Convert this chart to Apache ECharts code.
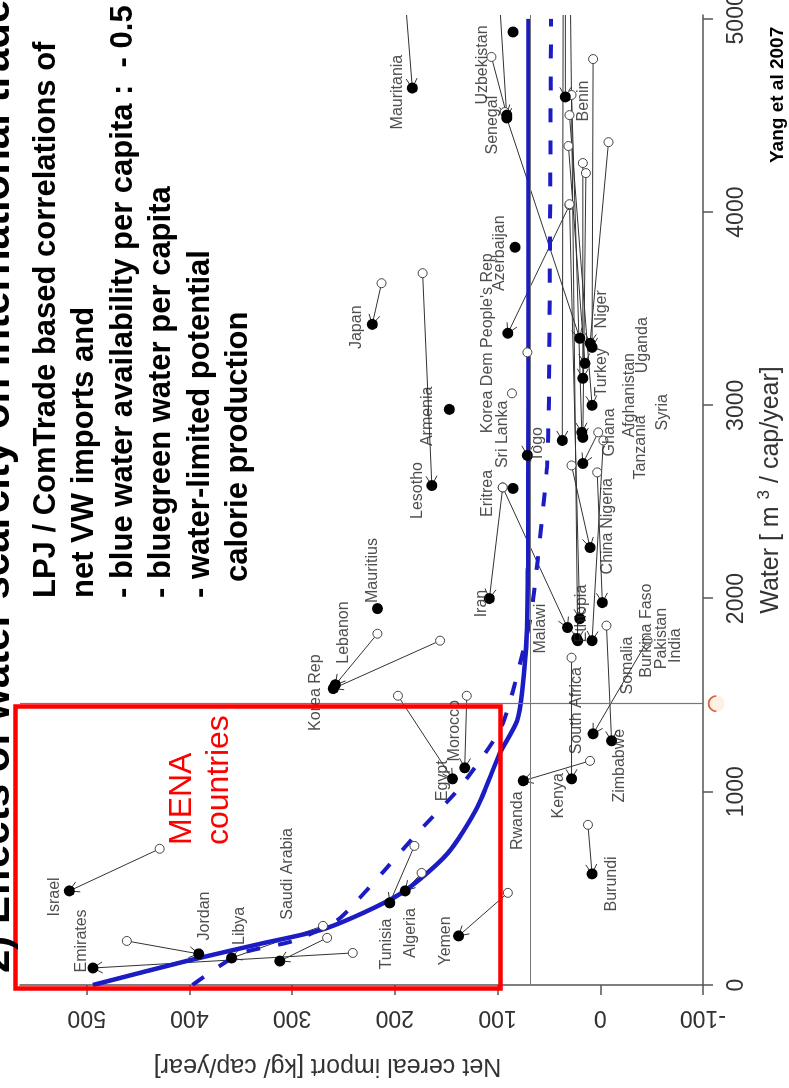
<!DOCTYPE html>
<html>
<head>
<meta charset="utf-8">
<script src="https://cdn.jsdelivr.net/npm/echarts@6/dist/echarts.min.js"></script>
<style>
  html, body { margin: 0; padding: 0; width: 789px; height: 1088px; overflow: hidden; background: #fff; }
  /* The slide is laid out landscape and turned a quarter turn counter-clockwise */
  #slide { position: absolute; left: 0; top: 0; width: 1088px; height: 789px;
           transform-origin: 0 0; transform: translate(0, 1088px) rotate(-90deg); background: #fff; }
</style>
</head>
<body>
<div id="slide"></div>
<script>
// Axis ticks
const waterTicks = [0, 1000, 2000, 3000, 4000, 5000];
const importTicks = [-100, 0, 100, 200, 300, 400, 500];

// Reference thresholds (water per capita, net cereal import)
const waterThreshold = 1456;
const importThreshold = 68.5;

// Fitted curves: [water m3/cap/yr, net cereal import kg/cap/yr]
const fitSolid = [[0,494],[124,403],[212,332],[295,266],[471,195],[679,149],[917,120],[1197,98],
  [1368,81],[1523,76],[1819,71.5],[2160,70.5],[3026,70],[5000,70]];
const fitDashed = [[0,397],[161,351],[228,299],[332,257],[435,237],[606,208],[798,176],[1021,137],
  [1316,98],[1523,85],[1886,68.5],[2197,61],[2456,56],[2679,52],[3026,50],[5000,48]];

// Country moves: [water before, import before, water after, import after]
const moves = [
  [705,429,487,517], [166,241,88,494], [244,266,124,312], [228,461,161,391], [306,270,140,359],
  [720,181,425,205], [580,174,487,190], [477,90,254,138], [1497,197,1067,144], [1497,130,1124,132],
  [1782,156,1534,260], [1818,217,1554,258], [2575,95,2000,108], [2575,95,1850,32], [3274,71,2741,71],
  [4036,30,3373,90], [3684,173,2585,164], [3632,213,3419,222], [5513,196,4642,183], [4803,106,4502,91],
  [5513,103,4487,91], [4518,93,3347,20], [5513,34,4596,34], [4792,7,3300,8], [4362,-8,3321,10],
  [4342,31,3217,15], [4254,17,3140,17], [4202,14,2834,17], [4502,30,3000,8], [4606,28,2860,18],
  [5513,36,2818,37], [2860,2,2699,17], [2653,3,1979,-2], [2689,28,2264,10], [4041,30,1896,20],
  [2818,-3,1782,8], [5513,30,1782,22], [1782,-46,1300,7], [1860,-6,1264,-11], [1694,28,1067,28],
  [1160,10,1057,75], [829,12,575,8]
];
// Countries shown without a move
const filledOnly = [[1948,217],[2570,85],[3818,83],[2979,147],[4932,85],[1793,23]];
const openOnly = [[3062,86]];

// Country names and where they sit
const countryLabels = [
  ['Israel',456,531], ['Emirates',228,505], ['Jordan',357,385], ['Libya',306,351],
  ['Saudi Arabia',575,304], ['Tunisia',212,208], ['Algeria',269,185], ['Yemen',228,151],
  ['Egypt',1057,154], ['Morocco',1316,142], ['Korea Rep',1513,277], ['Lebanon',1824,250],
  ['Mauritius',2145,222], ['Iran',1974,116], ['Eritrea',2544,110], ['Sri Lanka',2850,95],
  ['Togo',2798,61], ['Malawi',1844,58], ["Korea Dem People's Rep",3321,110], ['Azerbaijan',3787,98],
  ['Armenia',2943,168], ['Lesotho',2559,178], ['Japan',3404,237], ['Mauritania',4621,197],
  ['Senegal',4450,105], ['Uzbekistan',4761,115], ['Benin',4575,16], ['Niger',3497,-1],
  ['Uganda',3311,-41], ['Turkey',3171,-1], ['Afghanistan',3052,-29], ['Tanzania',2782,-39],
  ['Syria',2964,-61], ['Ghana',2860,-9], ['Nigeria',2492,-7], ['China',2233,-7],
  ['Ethiopia',1922,18], ['India',1756,-73], ['Pakistan',1793,-60], ['Burkina Faso',1834,-45],
  ['Somalia',1653,-27], ['Zimbabwe',1135,-19], ['South Africa',1420,23], ['Kenya',979,41],
  ['Rwanda',850,81], ['Burundi',523,-11]
];

const FONT = '"Liberation Sans", Arial, Helvetica, sans-serif';
const AXIS_GREY = '#555';
const BLUE = '#1c1cc4';

const openPoints = moves.map(m => [m[0], m[1]]).concat(openOnly);
const filledPoints = moves.map(m => [m[2], m[3]]).concat(filledOnly);

const chart = echarts.init(document.getElementById('slide'), null, { renderer: 'canvas', width: 1088, height: 789 });

function arrowItem(params, api) {
  const p1 = api.coord([api.value(0), api.value(1)]);
  const p2 = api.coord([api.value(2), api.value(3)]);
  const ang = Math.atan2(p2[1] - p1[1], p2[0] - p1[0]);
  const len = 11, spread = Math.PI / 6;
  const h1 = [p2[0] - len * Math.cos(ang - spread), p2[1] - len * Math.sin(ang - spread)];
  const h2 = [p2[0] - len * Math.cos(ang + spread), p2[1] - len * Math.sin(ang + spread)];
  return {
    type: 'group',
    children: [
      { type: 'line', shape: { x1: p1[0], y1: p1[1], x2: p2[0], y2: p2[1] },
        style: { stroke: '#333', lineWidth: 1 } },
      { type: 'polyline', shape: { points: [h1, p2, h2] },
        style: { stroke: '#333', lineWidth: 1, fill: null } }
    ]
  };
}

const plainNumber = v => String(v);

chart.setOption({
  animation: false,
  backgroundColor: '#fff',
  textStyle: { fontFamily: FONT },
  grid: { left: 103, right: 15, top: 20, bottom: 86, containLabel: false, outerBoundsMode: 'none' },
  xAxis: {
    type: 'value', min: 0, max: 5020,
    axisLine: { show: true, onZero: false, lineStyle: { color: AXIS_GREY, width: 1.5 } },
    axisTick: { show: true, length: 10, customValues: waterTicks, lineStyle: { color: AXIS_GREY, width: 1.5 } },
    axisLabel: { customValues: waterTicks, formatter: plainNumber, fontSize: 23, color: '#333', margin: 22, fontFamily: FONT },
    splitLine: { show: false }
  },
  yAxis: {
    type: 'value', min: -100, max: 565,
    axisLine: { show: true, onZero: false, lineStyle: { color: AXIS_GREY, width: 1.5 } },
    axisTick: { show: true, length: 10, customValues: importTicks, lineStyle: { color: AXIS_GREY, width: 1.5 } },
    axisLabel: { customValues: importTicks, formatter: plainNumber, rotate: 90, fontSize: 23, color: '#333', margin: 21, fontFamily: FONT },
    splitLine: { show: false }
  },
  series: [
    {
      type: 'line', data: [], silent: true,
      markLine: {
        silent: true, symbol: ['none', 'none'], label: { show: false },
        lineStyle: { color: '#777', width: 1.2, type: 'solid' },
        data: [{ xAxis: waterThreshold }, { yAxis: importThreshold }]
      }
    },
    {
      type: 'custom', renderItem: arrowItem, data: moves, clip: true, silent: true,
      encode: { x: [0, 2], y: [1, 3] }, z: 3
    },
    {
      type: 'line', data: fitSolid, showSymbol: false, symbol: 'none', smooth: 0.25, z: 4,
      lineStyle: { color: BLUE, width: 4.5 }
    },
    {
      type: 'line', data: fitDashed, showSymbol: false, symbol: 'none', smooth: 0.25, z: 4,
      lineStyle: { color: BLUE, width: 4, type: [14, 18] }
    },
    {
      type: 'scatter', data: openPoints, symbol: 'circle', symbolSize: 9, z: 5,
      itemStyle: { color: '#fff', borderColor: '#444', borderWidth: 1, opacity: 1 }
    },
    {
      type: 'scatter', data: filledPoints, symbol: 'circle', symbolSize: 11, z: 6,
      itemStyle: { color: '#000', opacity: 1 }
    },
    {
      type: 'scatter', z: 7, symbolSize: 1, silent: true,
      itemStyle: { color: 'rgba(0,0,0,0)', borderWidth: 0 },
      data: countryLabels.map(d => ({ name: d[0], value: [d[1], d[2]] })),
      label: { show: true, position: 'inside', formatter: '{b}', fontSize: 16, color: '#222', fontFamily: FONT }
    },
    {
      // threshold marker on the water axis: pale disc with an open arc
      type: 'scatter', clip: false, z: 8, symbol: 'circle', symbolSize: 17,
      data: [[waterThreshold, -113]],
      itemStyle: { color: '#fdf0e4', borderWidth: 0, opacity: 1 }
    },
    {
      type: 'scatter', clip: false, z: 9, symbolSize: [17, 8.5], symbolOffset: [0, -4.25],
      symbol: 'path://M0,10 A10,10 0 0 1 20,10 L18,10 A8,8 0 0 0 2,10 Z',
      data: [[waterThreshold, -113]],
      itemStyle: { color: '#d8643c', opacity: 1 }
    }
  ],
  graphic: [
    { type: 'rect', z: 100, shape: { x: 99.5, y: 15.5, width: 282, height: 485 },
      style: { fill: null, stroke: '#ff0000', lineWidth: 4.5 } },
    { type: 'text', z: 100, x: 115, y: -2.5,
      style: { text: '2) Effects of water scarcity on international trade', font: 'bold 42px ' + FONT,
               fill: '#000', align: 'left', verticalAlign: 'middle' } },
    { type: 'text', z: 100, x: 490, y: 46.3,
      style: { text: 'LPJ / ComTrade based correlations of', font: 'bold 31px ' + FONT, fill: '#000', align: 'left', verticalAlign: 'middle' } },
    { type: 'text', z: 100, x: 490, y: 84.8,
      style: { text: 'net VW imports and', font: 'bold 31px ' + FONT, fill: '#000', align: 'left', verticalAlign: 'middle' } },
    { type: 'text', z: 100, x: 490, y: 123.3,
      style: { text: '- blue water availability per capita :  - 0.5', font: 'bold 31px ' + FONT, fill: '#000', align: 'left', verticalAlign: 'middle' } },
    { type: 'text', z: 100, x: 490, y: 161.8,
      style: { text: '- bluegreen water per capita', font: 'bold 31px ' + FONT, fill: '#000', align: 'left', verticalAlign: 'middle' } },
    { type: 'text', z: 100, x: 490, y: 200.3,
      style: { text: '- water-limited potential', font: 'bold 31px ' + FONT, fill: '#000', align: 'left', verticalAlign: 'middle' } },
    { type: 'text', z: 100, x: 506, y: 238.8,
      style: { text: 'calorie production', font: 'bold 31px ' + FONT, fill: '#000', align: 'left', verticalAlign: 'middle' } },
    { type: 'text', z: 100, x: 243, y: 181.9,
      style: { text: 'MENA', font: '32px ' + FONT, fill: '#ff0000', align: 'left', verticalAlign: 'middle' } },
    { type: 'text', z: 100, x: 243, y: 218.9,
      style: { text: 'countries', font: '32px ' + FONT, fill: '#ff0000', align: 'left', verticalAlign: 'middle' } },
    { type: 'text', z: 100, x: 925, y: 777.4,
      style: { text: 'Yang et al 2007', font: 'bold 19px ' + FONT, fill: '#000', align: 'left', verticalAlign: 'middle' } },
    { type: 'text', z: 100, x: 598, y: 771.3,
      style: { text: 'Water [ m {sup|3} / cap/year]', font: '25px ' + FONT, fill: '#333', align: 'center', verticalAlign: 'middle',
               rich: { sup: { fontSize: 17, fontFamily: FONT, fill: '#333', verticalAlign: 'top', lineHeight: 30 } } } },
    { type: 'text', z: 100, x: 22.3, y: 327.5, rotation: Math.PI / 2,
      style: { text: 'Net cereal import [kg/ cap/year]', font: '25px ' + FONT, fill: '#333', align: 'center', verticalAlign: 'middle' } }
  ]
});
</script>
</body>
</html>
